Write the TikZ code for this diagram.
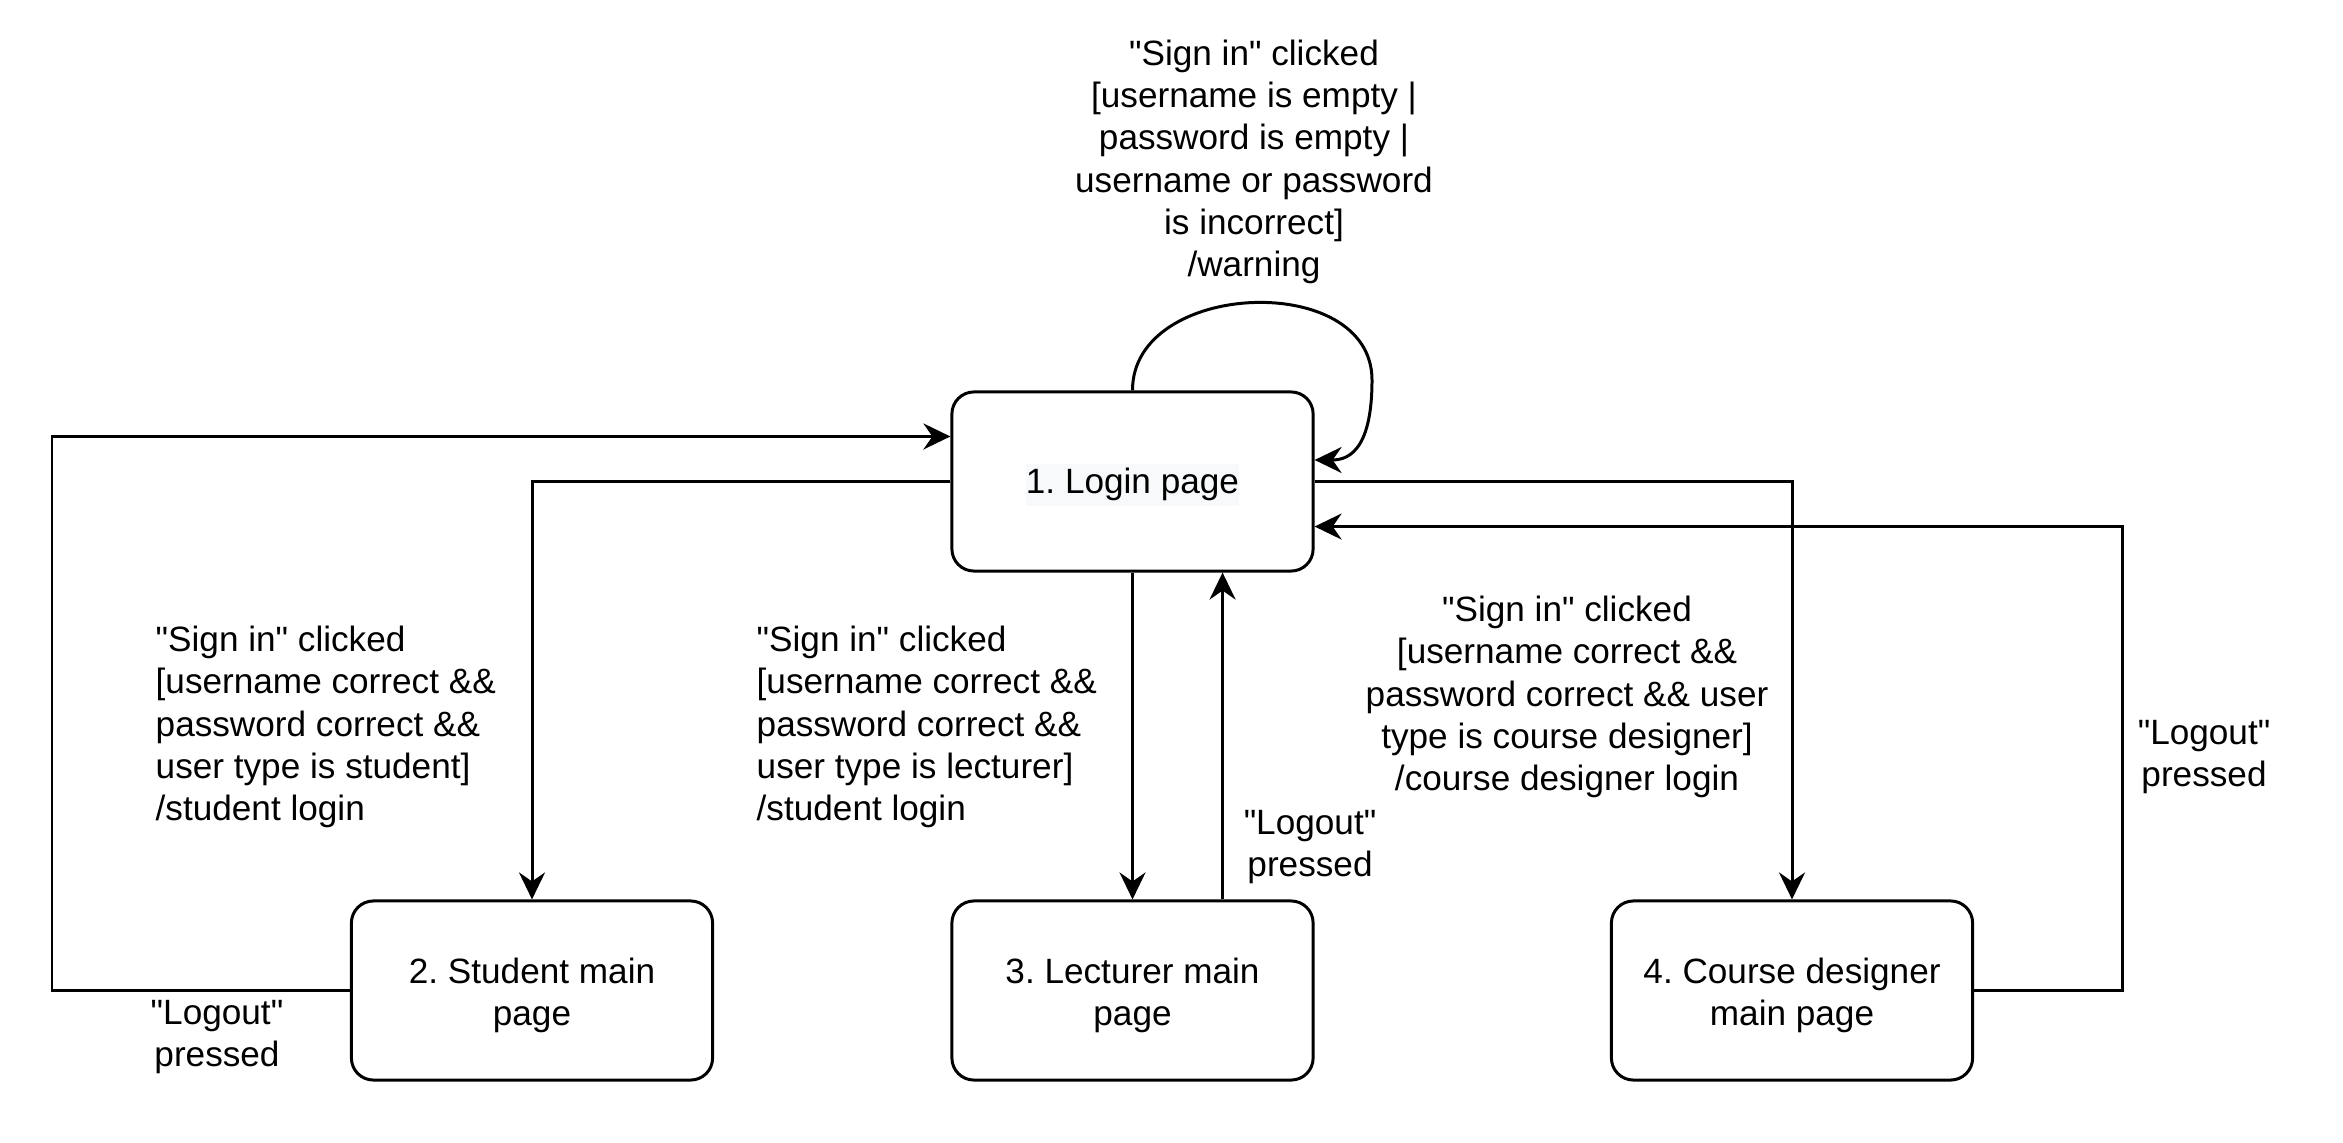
\documentclass[tikz,border=0pt]{standalone}
\usepackage{fontspec}
\newfontfamily\arialf{Liberation Sans}
\usetikzlibrary{arrows.meta}
\definecolor{hl}{RGB}{248,249,250}
\newcommand\toppad{\rule{0pt}{10pt}}
\begin{document}
\begin{tikzpicture}[x=0.01cm,y=-0.01cm,
  state/.style={draw, line width=0.85pt, rounded corners=0.22cm, minimum width=3.61cm, minimum height=1.79cm, align=center, inner sep=0pt, font=\arialf\frenchspacing\fontsize{10}{12}\selectfont},
  conn/.style={line width=0.85pt, -{Stealth[length=0.27cm,width=0.26cm,inset=0.09cm]}},
  lbl/.style={font=\arialf\frenchspacing\fontsize{10}{12}\selectfont, inner sep=0pt},
]
\useasboundingbox (0,0) rectangle (2343,1143);
\node[state] (login) at (1132.5,481.5) {\raisebox{-0.9pt}[8.4pt][3.6pt]{\setlength\fboxsep{0pt}\colorbox{hl}{\strut 1. Login page}}};
\node[state] (student) at (532,990.5) {\toppad 2. Student main\\page};
\node[state] (lect) at (1132.5,990.5) {\toppad 3. Lecturer main\\page};
\node[state] (des) at (1792,990.5) {\toppad 4. Course designer\\main page};

\draw[conn] (login.north) .. controls (1132,280) and (1372,270) .. (1372,380) .. controls (1372,455) and (1345,460) .. ([yshift=0.215cm]login.east);
\draw[conn] (student.west) -- (52,990.5) |- ([yshift=0.45cm]login.west);
\draw[conn] (login.west) -| (student.north);
\draw[conn] (login.south) -- (lect.north);
\draw[conn] ([xshift=0.9cm]lect.north) -- ([xshift=0.9cm]login.south);
\draw[conn] (login.east) -| (des.north);
\draw[conn] (des.east) -- (2122,990.5) |- ([yshift=-0.45cm]login.east);

\node[lbl, align=center] (ltop) at (1254,162) {"Sign in" clicked\\{}[username is empty |\\password is empty |\\username or password\\is incorrect]\\/warning};
\node[lbl, align=left, anchor=west] (lstu) at (155,727) {"Sign in" clicked\\{}[username correct \&\&\\password correct \&\&\\user type is student]\\/student login};
\node[lbl, align=left, anchor=west] (llec) at (756,727) {"Sign in" clicked\\{}[username correct \&\&\\password correct \&\&\\user type is lecturer]\\/student login};
\node[lbl, align=center] (ldes) at (1567,697) {"Sign in" clicked\\{}[username correct \&\&\\password correct \&\& user\\type is course designer]\\/course designer login};
\node[lbl, align=center] (lo1) at (217,1037) {"Logout"\\pressed};
\node[lbl, align=center] (lo2) at (1310,847) {"Logout"\\pressed};
\node[lbl, align=center] (lo3) at (2204,757) {"Logout"\\pressed};
\end{tikzpicture}
\end{document}
